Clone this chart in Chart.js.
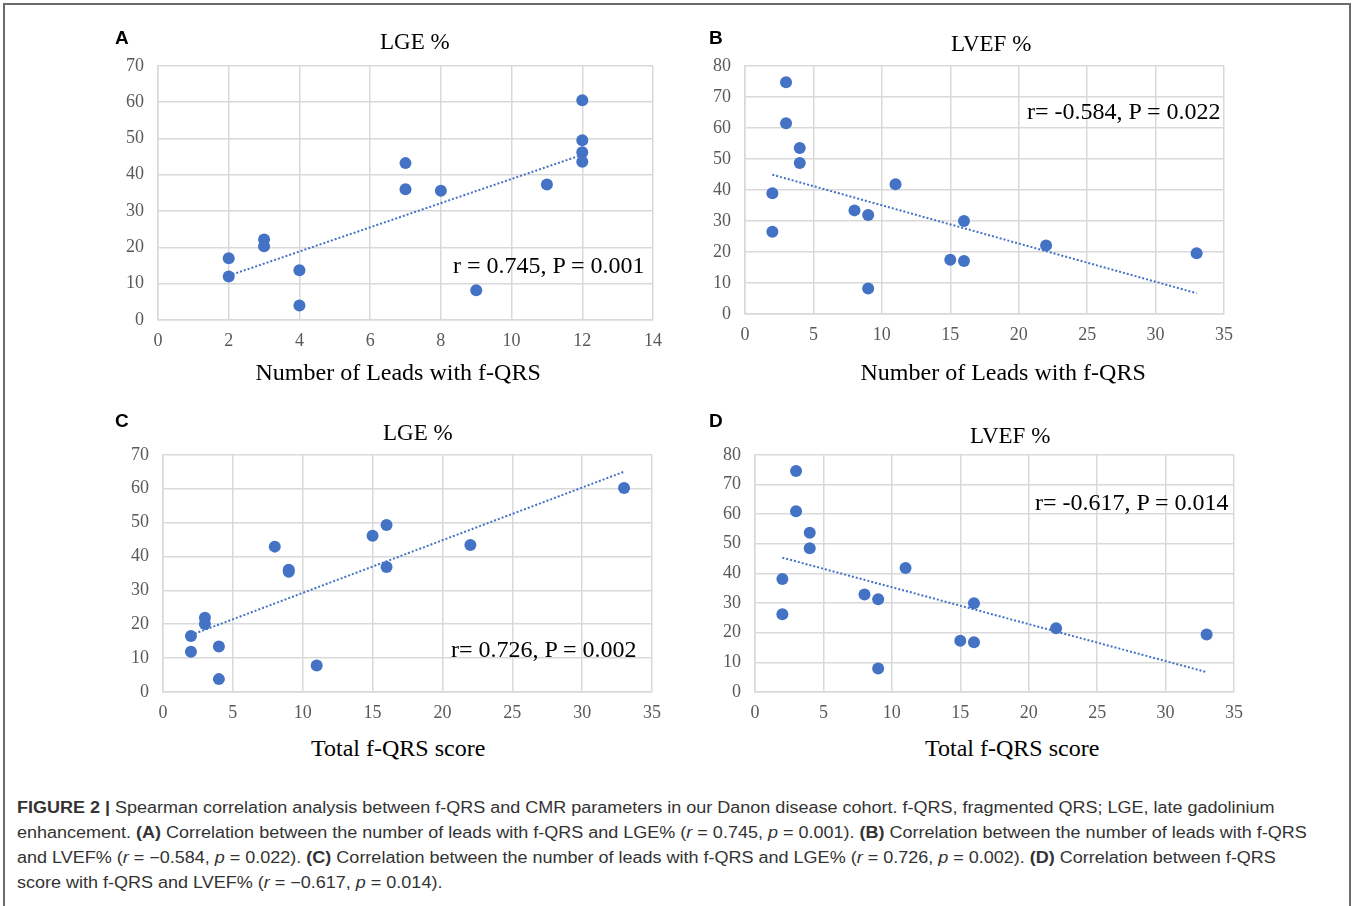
<!DOCTYPE html>
<html>
<head>
<meta charset="utf-8">
<script src="https://cdn.jsdelivr.net/npm/chart.js@4.4.1/dist/chart.umd.min.js"></script>
<style>
  body { margin: 0; background: #fff; width: 1352px; height: 906px; position: relative; overflow: hidden; }
  .frame { position: absolute; left: 3px; top: 3px; width: 1344px; height: 920px; border: 2px solid #6b6b6b; border-bottom: none; }
  canvas { position: absolute; }
  .t { position: absolute; white-space: nowrap; font-family: "Liberation Serif", "Times New Roman", serif; color: #000; line-height: 1; }
  .letter { position: absolute; font-family: "Liberation Sans", Arial, sans-serif; font-weight: bold; font-size: 19px; line-height: 1; }
  .caption { position: absolute; left: 17px; top: 795px; font-family: "Liberation Sans", Arial, sans-serif; font-size: 16px; line-height: 25px; color: #333; white-space: nowrap; transform: scaleX(1.125); transform-origin: 0 0; }
</style>
</head>
<body>
<div class="frame"></div>

<canvas id="chartA"></canvas>
<canvas id="chartB"></canvas>
<canvas id="chartC"></canvas>
<canvas id="chartD"></canvas>

<div class="caption">
<b>FIGURE 2 |</b> Spearman correlation analysis between f-QRS and CMR parameters in our Danon disease cohort. f-QRS, fragmented QRS; LGE, late gadolinium<br>
enhancement. <b>(A)</b> Correlation between the number of leads with f-QRS and LGE% (<i>r</i> = 0.745, <i>p</i> = 0.001). <b>(B)</b> Correlation between the number of leads with f-QRS<br>
and LVEF% (<i>r</i> = −0.584, <i>p</i> = 0.022). <b>(C)</b> Correlation between the number of leads with f-QRS and LGE% (<i>r</i> = 0.726, <i>p</i> = 0.002). <b>(D)</b> Correlation between f-QRS<br>
score with f-QRS and LVEF% (<i>r</i> = −0.617, <i>p</i> = 0.014).
</div>

<script>
// data //
const leadsA = [2, 2, 3, 3, 4, 4, 7, 7, 8, 9, 11, 12, 12, 12, 12];
const lgeA   = [17, 12, 22.2, 20.3, 13.7, 4, 43.2, 36, 35.6, 8.2, 37.3, 60.5, 49.5, 46.2, 43.6];
const trendAx = [2, 12];
const trendAy = [12.2, 45.5];

const leadsB = [2, 2, 3, 3, 4, 4, 8, 9, 9, 11, 15, 16, 16, 22, 33];
const lvefB  = [38.9, 26.5, 74.7, 61.5, 53.5, 48.7, 33.4, 31.9, 8.2, 41.8, 17.5, 30, 17.1, 22.1, 19.6];
const trendBx = [2, 33];
const trendBy = [44.9, 6.7];

const scoreC = [2, 2, 3, 3, 4, 4, 8, 9, 9, 11, 15, 16, 16, 22, 33];
const lgeC   = [16.5, 11.9, 21.9, 20.1, 13.4, 3.8, 42.9, 36.1, 35.5, 7.8, 46.1, 49.3, 36.9, 43.4, 60.2];
const trendCx = [2, 33];
const trendCy = [16.8, 65];

const scoreD = [2, 2, 3, 3, 4, 4, 8, 9, 9, 11, 15, 16, 16, 22, 33];
const lvefD  = [38.1, 26.2, 74.5, 61, 53.7, 48.5, 32.9, 31.3, 7.9, 41.8, 17.3, 29.9, 16.8, 21.5, 19.4];
const trendDx = [2, 33];
const trendDy = [45.3, 6.7];

const blue = '#4472c4';
const gridColor = '#d9d9d9';

function pts(xs, ys) {
    return xs.map((x, i) => ({ x: x, y: ys[i] }));
}

function addText(cls, txt, x, y, size, align) {
    const d = document.createElement('div');
    d.className = cls;
    d.textContent = txt;
    if (size) d.style.fontSize = size + 'px';
    document.body.appendChild(d);
    const w = d.offsetWidth, h = d.offsetHeight;
    let left = x - w / 2;
    if (align === 'right') left = x - w;
    if (align === 'left') left = x;
    d.style.left = left + 'px';
    d.style.top = (y - h / 2) + 'px';
}

// one panel = one chart, plot box given in page pixels
function panel(id, box, xs, ys, tx, ty, xMax, xStep, yMax) {
    const cv = document.getElementById(id);
    const yw = 60, xh = 40, padT = 20, padR = 30;
    // chart.js leaves ~5px more above and 1px less below, so the canvas is shifted for that
    cv.style.left = (box.l - yw) + 'px';
    cv.style.top = (box.t - padT - 5) + 'px';
    cv.width = box.r - box.l + yw + padR;
    cv.height = box.b - box.t + padT + xh + 6;
    cv.style.width = cv.width + 'px';
    cv.style.height = cv.height + 'px';

    const tickFont = { family: '"Liberation Serif", "Times New Roman", serif', size: 18 };

    new Chart(cv.getContext('2d'), {
        type: 'scatter',
        data: {
            datasets: [
                {
                    data: pts(xs, ys),
                    backgroundColor: blue,
                    borderColor: blue,
                    pointRadius: 6,
                    pointBorderWidth: 0,
                    order: 1
                },
                {
                    type: 'line',
                    data: pts(tx, ty),
                    borderColor: blue,
                    borderWidth: 2,
                    borderDash: [2, 2],
                    pointRadius: 0,
                    fill: false,
                    order: 2
                }
            ]
        },
        options: {
            responsive: false,
            animation: false,
            layout: { padding: { top: padT, right: padR, left: 0, bottom: 0 } },
            plugins: { legend: { display: false }, tooltip: { enabled: false } },
            scales: {
                x: {
                    type: 'linear', min: 0, max: xMax,
                    afterFit: (s) => { s.height = xh; },
                    ticks: { stepSize: xStep, color: '#595959', font: tickFont, padding: 10 },
                    grid: { color: gridColor, lineWidth: 1.5, drawTicks: false },
                    border: { color: gridColor, width: 1.5 }
                },
                y: {
                    min: 0, max: yMax,
                    afterFit: (s) => { s.width = yw; },
                    ticks: { stepSize: 10, color: '#595959', font: tickFont, padding: 14 },
                    grid: { color: gridColor, lineWidth: 1.5, drawTicks: false },
                    border: { color: gridColor, width: 1.5 }
                }
            }
        }
    });
}

panel('chartA', { l: 158, r: 653, t: 66, b: 319 }, leadsA, lgeA, trendAx, trendAy, 14, 2, 70);
panel('chartB', { l: 745, r: 1224, t: 66, b: 313 }, leadsB, lvefB, trendBx, trendBy, 35, 5, 80);
panel('chartC', { l: 163, r: 652, t: 455, b: 691 }, scoreC, lgeC, trendCx, trendCy, 35, 5, 70);
panel('chartD', { l: 755, r: 1234, t: 455, b: 691 }, scoreD, lvefD, trendDx, trendDy, 35, 5, 80);

// panel letters, titles, axis titles, stats //
addText('letter', 'A', 122, 37);
addText('letter', 'B', 716, 37);
addText('letter', 'C', 122, 420);
addText('letter', 'D', 716, 420);

addText('t', 'LGE %', 415, 41, 23);
addText('t', 'LVEF %', 991, 43, 23);
addText('t', 'LGE %', 418, 432, 23);
addText('t', 'LVEF %', 1010, 435, 23);

addText('t', 'r = 0.745, P = 0.001', 645, 265, 24, 'right');
addText('t', 'r= -0.584, P = 0.022', 1221, 111, 24, 'right');
addText('t', 'r= 0.726, P = 0.002', 637, 649, 24, 'right');
addText('t', 'r= -0.617, P = 0.014', 1229, 502, 24, 'right');

addText('t', 'Number of Leads with f-QRS', 398, 372, 24);
addText('t', 'Number of Leads with f-QRS', 1003, 372, 24);
addText('t', 'Total f-QRS score', 398, 748, 24);
addText('t', 'Total f-QRS score', 1012, 748, 24);
</script>
</body>
</html>
